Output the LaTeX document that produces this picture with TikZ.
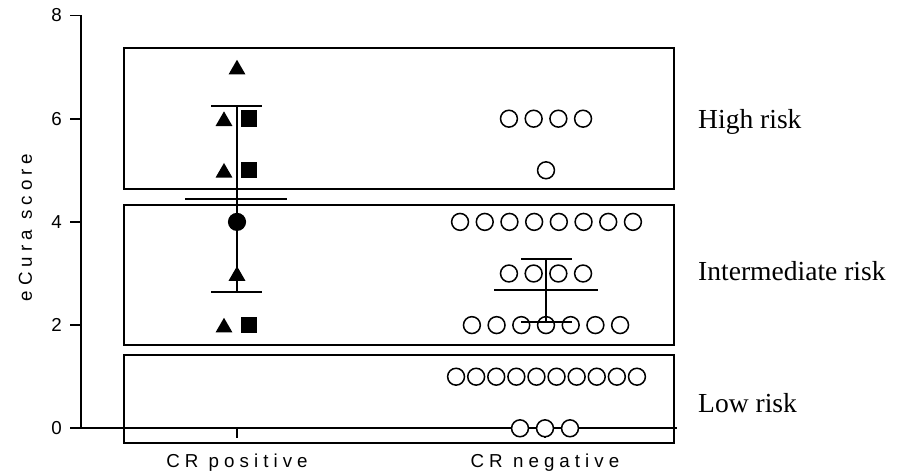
\documentclass[tikz,border=0pt]{standalone}
\usepackage{fontspec}
\setmainfont{Liberation Serif}
\newfontfamily\axisfont[LetterSpace=27]{Liberation Sans}
\newfontfamily\numfont{Liberation Sans}
\usetikzlibrary{shapes.geometric}

\begin{document}
\begin{tikzpicture}[x=0.03cm, y=1.548cm,
  ax/.style={line width=1.6pt},
  bar/.style={line width=1.4pt},
  opn/.style={circle, draw, fill=white, line width=1.3pt, inner sep=0pt, minimum size=14.4pt},
  tri/.style={regular polygon, regular polygon sides=3, fill, inner sep=0pt, minimum size=16.7pt, yshift=-2.1pt},
  sqr/.style={rectangle, fill, inner sep=0pt, minimum size=14pt},
  dot/.style={circle, fill, inner sep=0pt, minimum size=15.5pt},
  lab/.style={font=\axisfont\fontsize{16}{19}\selectfont},
  num/.style={font=\numfont\fontsize{16}{19}\selectfont, anchor=east, inner sep=0pt},
  risk/.style={font=\fontsize{23.5}{28}\selectfont, anchor=base west, inner sep=0pt}]
\useasboundingbox (0,-0.886) rectangle (899,8.300);
%\draw [->](-2,1) -- (0,1);
\draw[ax] (81,8) -- (81,0);
\foreach \v in {0,2,4,6,8} {
  \draw[ax] (70,\v) -- (81,\v);
  \node[num] (t\v) at (62,\v) {\v};
}
\draw[ax] (70,0) -- (677,0);
\draw[ax] (237,0) -- (237,-0.194);
\draw[ax] (545,0) -- (545,-0.194);
\draw[ax] (124,4.643) rectangle (674,7.376);
\draw[ax] (124,1.609) rectangle (674,4.333);
\draw[ax] (124,-0.279) rectangle (674,1.415);
% CR positive
\node[tri] (a7) at (237,7) {};
\node[tri] (a6) at (224,6) {};
\node[sqr] (b6) at (249,6) {};
\node[tri] (a5) at (224,5) {};
\node[sqr] (b5) at (249,5) {};
\node[dot] (c4) at (237,4) {};
\node[tri] (a3) at (237,3) {};
\node[tri] (a2) at (224,2) {};
\node[sqr] (b2) at (249,2) {};
% CR negative
\foreach \i in {0,...,3} \node[opn] (h\i) at ({546+(\i-1.5)*24.7},6) {};
\node[opn] (f0) at (546,5) {};
\foreach \i in {0,...,7} \node[opn] (e\i) at ({546.5+(\i-3.5)*24.7},4) {};
\foreach \i in {0,...,3} \node[opn] (d\i) at ({546+(\i-1.5)*24.7},3) {};
\foreach \i in {0,...,6} \node[opn] (w\i) at ({546+(\i-3)*24.7},2) {};
\foreach \i in {0,...,9} \node[opn] (o\i) at ({546.5+(\i-4.5)*20.1},1) {};
\foreach \i in {0,...,2} \node[opn] (z\i) at ({545+(\i-1)*25},0) {};
\draw[bar] (237,2.64) -- (237,6.246);
\draw[bar] (211,6.246) -- (262,6.246);
\draw[bar] (185,4.438) -- (287,4.438);
\draw[bar] (211,2.64) -- (262,2.64);
\draw[bar] (546,2.054) -- (546,3.275);
\draw[bar] (521,3.275) -- (572,3.275);
\draw[bar] (494,2.674) -- (598,2.674);
\draw[bar] (521,2.054) -- (572,2.054);
\node[lab, anchor=base] (xp) at (237,-0.769) {CR positive};
\node[lab, anchor=base] (xn) at (545,-0.769) {CR negative};
\node[lab, rotate=90] (yl) at (25.5,3.89) {eCura score};
\node[risk] (hr) at (698,5.816) {High risk};
\node[risk] (ir) at (698,2.870) {Intermediate risk};
\node[risk] (lr) at (698,0.306) {Low risk};
\end{tikzpicture}
\end{document}
